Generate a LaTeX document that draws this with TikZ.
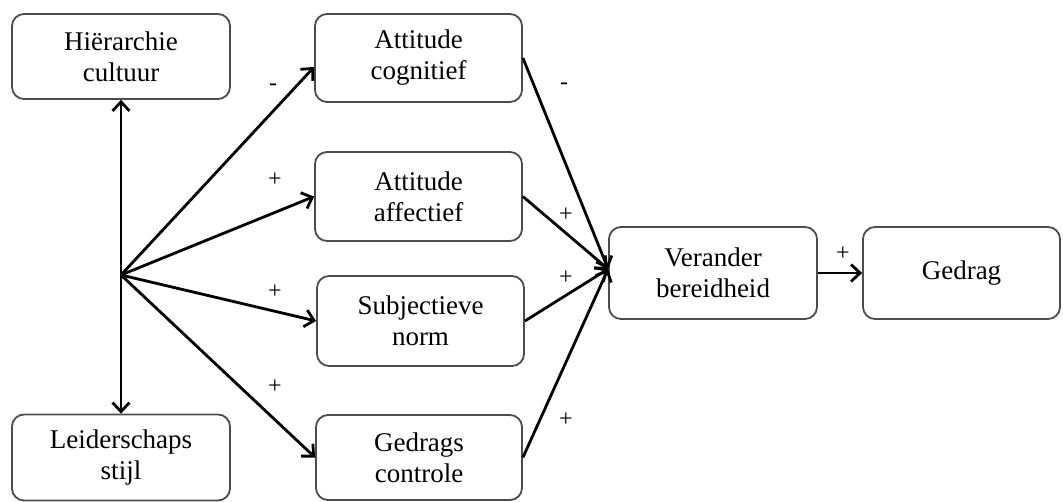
\documentclass[tikz,border=0pt]{standalone}
\usepackage{fontspec}
\setmainfont{Liberation Serif}
\usetikzlibrary{arrows.meta}
\begin{document}
\begin{tikzpicture}[
    x=1pt, y=-1pt,
    factor/.style={rectangle, draw=black!70, line width=1.8pt, rounded corners=12pt, align=center, inner sep=0pt,
        font=\rmfamily\fontsize{27}{31}\selectfont},
    sign/.style={font=\rmfamily\fontsize{24}{26}\selectfont, inner sep=0pt},
    link/.style={line width=2.8pt, -{Straight Barb[length=9pt,width=17pt,line width=2.8pt]}}
]
    \useasboundingbox (0,0) rectangle (1063,502);
    % Left column
    \node[factor, minimum width=218pt, minimum height=85pt] (hier) at (121,56.5) {Hiërarchie\\cultuur};
    \node[factor, minimum width=218pt, minimum height=86pt] (leid) at (121,457.5) {Leiderschaps\\stijl};
    \coordinate (hub) at (121,275);
    % Middle column
    \node[factor, minimum width=207pt, minimum height=88pt] (cog) at (418.5,58) {Attitude\\cognitief};
    \node[factor, minimum width=207pt, minimum height=89pt] (aff) at (418.5,196.5) {Attitude\\affectief};
    \node[factor, minimum width=207pt, minimum height=90pt] (subj) at (420.5,321) {Subjectieve\\norm};
    \node[factor, minimum width=206pt, minimum height=85pt] (gedc) at (419,457.5) {Gedrags\\controle};
    % Right column
    \node[factor, minimum width=208pt, minimum height=92pt] (ver) at (713,273) {Verander\\bereidheid};
    \node[factor, minimum width=197pt, minimum height=92pt] (ged) at (961.5,273) {Gedrag};

    % Arrows from the hub
    \draw[link] (hub) -- (hier.south);
    \draw[link] (hub) -- (leid.north);
    \draw[link] (hub) -- ([yshift=-9pt]cog.west);
    \draw[link] (hub) -- (aff.west);
    \draw[link] (hub) -- (subj.west);
    \draw[link] (hub) -- (gedc.west);
    % Arrows into readiness
    \draw[link] (cog.east) -- ([yshift=4pt]ver.west);
    \draw[link] (aff.east) -- ([yshift=4pt]ver.west);
    \draw[link] (subj.east) -- ([yshift=4pt]ver.west);
    \draw[link] (gedc.east) -- ([yshift=4pt]ver.west);
    \draw[link] (ver.east) -- (ged.west);

    % Signs
    \node[sign] (s1) at (273,87) {-};
    \node[sign] (s2) at (275,180) {+};
    \node[sign] (s3) at (275,292) {+};
    \node[sign] (s4) at (275,387) {+};
    \node[sign] (s5) at (564,86) {-};
    \node[sign] (s6) at (566,215) {+};
    \node[sign] (s7) at (566,278) {+};
    \node[sign] (s8) at (566,420) {+};
    \node[sign] (s9) at (843,254) {+};
\end{tikzpicture}
\end{document}
